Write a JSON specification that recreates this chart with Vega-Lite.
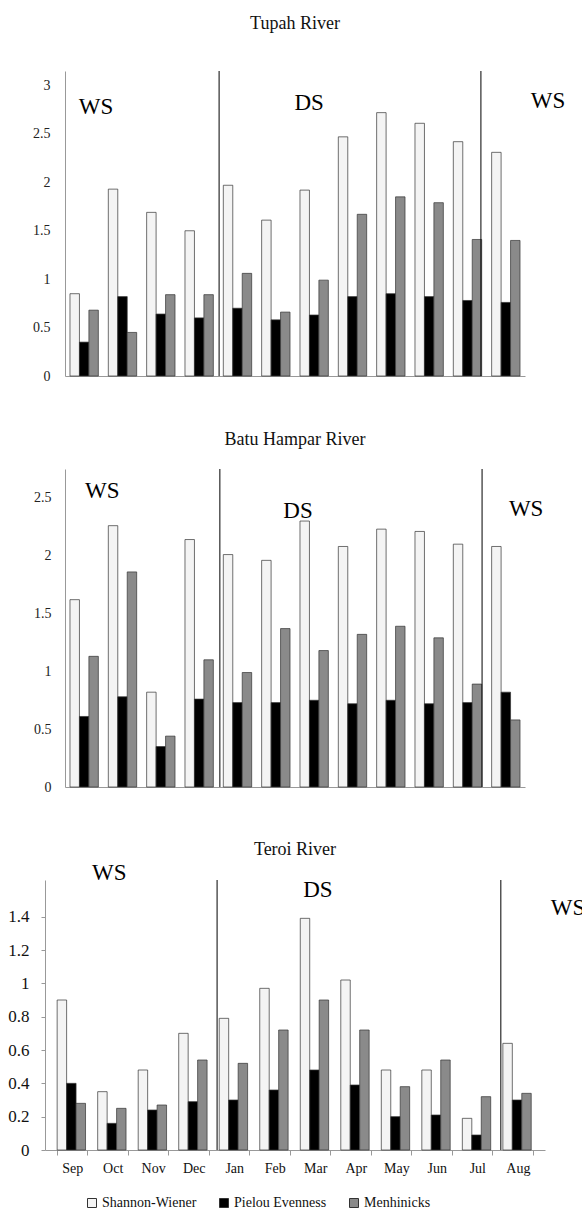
{
  "$schema": "https://vega.github.io/schema/vega-lite/v6.json",
  "padding": {"left": 7, "top": 14, "right": 5, "bottom": 5},
  "config": {
    "font": "Liberation Serif",
    "view": {"stroke": null},
    "title": {"font": "Liberation Serif", "fontSize": 18, "fontWeight": "normal", "color": "#111", "anchor": "middle"},
    "axis": {"grid": false, "labelFont": "Liberation Serif", "domainColor": "#999", "tickColor": "#999", "labelColor": "#222", "labelOverlap": false},
    "legend": {"labelFont": "Liberation Serif", "labelFontSize": 14, "labelColor": "#111"}
  },
  "datasets": {
    "bars": [
      {"r": "Tupah River", "m": "Sep", "i": "Shannon-Wiener", "v": 0.85},
      {"r": "Tupah River", "m": "Sep", "i": "Pielou Evenness", "v": 0.35},
      {"r": "Tupah River", "m": "Sep", "i": "Menhinicks", "v": 0.68},
      {"r": "Tupah River", "m": "Oct", "i": "Shannon-Wiener", "v": 1.93},
      {"r": "Tupah River", "m": "Oct", "i": "Pielou Evenness", "v": 0.82},
      {"r": "Tupah River", "m": "Oct", "i": "Menhinicks", "v": 0.45},
      {"r": "Tupah River", "m": "Nov", "i": "Shannon-Wiener", "v": 1.69},
      {"r": "Tupah River", "m": "Nov", "i": "Pielou Evenness", "v": 0.64},
      {"r": "Tupah River", "m": "Nov", "i": "Menhinicks", "v": 0.84},
      {"r": "Tupah River", "m": "Dec", "i": "Shannon-Wiener", "v": 1.5},
      {"r": "Tupah River", "m": "Dec", "i": "Pielou Evenness", "v": 0.6},
      {"r": "Tupah River", "m": "Dec", "i": "Menhinicks", "v": 0.84},
      {"r": "Tupah River", "m": "Jan", "i": "Shannon-Wiener", "v": 1.97},
      {"r": "Tupah River", "m": "Jan", "i": "Pielou Evenness", "v": 0.7},
      {"r": "Tupah River", "m": "Jan", "i": "Menhinicks", "v": 1.06},
      {"r": "Tupah River", "m": "Feb", "i": "Shannon-Wiener", "v": 1.61},
      {"r": "Tupah River", "m": "Feb", "i": "Pielou Evenness", "v": 0.58},
      {"r": "Tupah River", "m": "Feb", "i": "Menhinicks", "v": 0.66},
      {"r": "Tupah River", "m": "Mar", "i": "Shannon-Wiener", "v": 1.92},
      {"r": "Tupah River", "m": "Mar", "i": "Pielou Evenness", "v": 0.63},
      {"r": "Tupah River", "m": "Mar", "i": "Menhinicks", "v": 0.99},
      {"r": "Tupah River", "m": "Apr", "i": "Shannon-Wiener", "v": 2.47},
      {"r": "Tupah River", "m": "Apr", "i": "Pielou Evenness", "v": 0.82},
      {"r": "Tupah River", "m": "Apr", "i": "Menhinicks", "v": 1.67},
      {"r": "Tupah River", "m": "May", "i": "Shannon-Wiener", "v": 2.72},
      {"r": "Tupah River", "m": "May", "i": "Pielou Evenness", "v": 0.85},
      {"r": "Tupah River", "m": "May", "i": "Menhinicks", "v": 1.85},
      {"r": "Tupah River", "m": "Jun", "i": "Shannon-Wiener", "v": 2.61},
      {"r": "Tupah River", "m": "Jun", "i": "Pielou Evenness", "v": 0.82},
      {"r": "Tupah River", "m": "Jun", "i": "Menhinicks", "v": 1.79},
      {"r": "Tupah River", "m": "Jul", "i": "Shannon-Wiener", "v": 2.42},
      {"r": "Tupah River", "m": "Jul", "i": "Pielou Evenness", "v": 0.78},
      {"r": "Tupah River", "m": "Jul", "i": "Menhinicks", "v": 1.41},
      {"r": "Tupah River", "m": "Aug", "i": "Shannon-Wiener", "v": 2.31},
      {"r": "Tupah River", "m": "Aug", "i": "Pielou Evenness", "v": 0.76},
      {"r": "Tupah River", "m": "Aug", "i": "Menhinicks", "v": 1.4},
      {"r": "Batu Hampar River", "m": "Sep", "i": "Shannon-Wiener", "v": 1.62},
      {"r": "Batu Hampar River", "m": "Sep", "i": "Pielou Evenness", "v": 0.61},
      {"r": "Batu Hampar River", "m": "Sep", "i": "Menhinicks", "v": 1.13},
      {"r": "Batu Hampar River", "m": "Oct", "i": "Shannon-Wiener", "v": 2.26},
      {"r": "Batu Hampar River", "m": "Oct", "i": "Pielou Evenness", "v": 0.78},
      {"r": "Batu Hampar River", "m": "Oct", "i": "Menhinicks", "v": 1.86},
      {"r": "Batu Hampar River", "m": "Nov", "i": "Shannon-Wiener", "v": 0.82},
      {"r": "Batu Hampar River", "m": "Nov", "i": "Pielou Evenness", "v": 0.35},
      {"r": "Batu Hampar River", "m": "Nov", "i": "Menhinicks", "v": 0.44},
      {"r": "Batu Hampar River", "m": "Dec", "i": "Shannon-Wiener", "v": 2.14},
      {"r": "Batu Hampar River", "m": "Dec", "i": "Pielou Evenness", "v": 0.76},
      {"r": "Batu Hampar River", "m": "Dec", "i": "Menhinicks", "v": 1.1},
      {"r": "Batu Hampar River", "m": "Jan", "i": "Shannon-Wiener", "v": 2.01},
      {"r": "Batu Hampar River", "m": "Jan", "i": "Pielou Evenness", "v": 0.73},
      {"r": "Batu Hampar River", "m": "Jan", "i": "Menhinicks", "v": 0.99},
      {"r": "Batu Hampar River", "m": "Feb", "i": "Shannon-Wiener", "v": 1.96},
      {"r": "Batu Hampar River", "m": "Feb", "i": "Pielou Evenness", "v": 0.73},
      {"r": "Batu Hampar River", "m": "Feb", "i": "Menhinicks", "v": 1.37},
      {"r": "Batu Hampar River", "m": "Mar", "i": "Shannon-Wiener", "v": 2.3},
      {"r": "Batu Hampar River", "m": "Mar", "i": "Pielou Evenness", "v": 0.75},
      {"r": "Batu Hampar River", "m": "Mar", "i": "Menhinicks", "v": 1.18},
      {"r": "Batu Hampar River", "m": "Apr", "i": "Shannon-Wiener", "v": 2.08},
      {"r": "Batu Hampar River", "m": "Apr", "i": "Pielou Evenness", "v": 0.72},
      {"r": "Batu Hampar River", "m": "Apr", "i": "Menhinicks", "v": 1.32},
      {"r": "Batu Hampar River", "m": "May", "i": "Shannon-Wiener", "v": 2.23},
      {"r": "Batu Hampar River", "m": "May", "i": "Pielou Evenness", "v": 0.75},
      {"r": "Batu Hampar River", "m": "May", "i": "Menhinicks", "v": 1.39},
      {"r": "Batu Hampar River", "m": "Jun", "i": "Shannon-Wiener", "v": 2.21},
      {"r": "Batu Hampar River", "m": "Jun", "i": "Pielou Evenness", "v": 0.72},
      {"r": "Batu Hampar River", "m": "Jun", "i": "Menhinicks", "v": 1.29},
      {"r": "Batu Hampar River", "m": "Jul", "i": "Shannon-Wiener", "v": 2.1},
      {"r": "Batu Hampar River", "m": "Jul", "i": "Pielou Evenness", "v": 0.73},
      {"r": "Batu Hampar River", "m": "Jul", "i": "Menhinicks", "v": 0.89},
      {"r": "Batu Hampar River", "m": "Aug", "i": "Shannon-Wiener", "v": 2.08},
      {"r": "Batu Hampar River", "m": "Aug", "i": "Pielou Evenness", "v": 0.82},
      {"r": "Batu Hampar River", "m": "Aug", "i": "Menhinicks", "v": 0.58},
      {"r": "Teroi River", "m": "Sep", "i": "Shannon-Wiener", "v": 0.9},
      {"r": "Teroi River", "m": "Sep", "i": "Pielou Evenness", "v": 0.4},
      {"r": "Teroi River", "m": "Sep", "i": "Menhinicks", "v": 0.28},
      {"r": "Teroi River", "m": "Oct", "i": "Shannon-Wiener", "v": 0.35},
      {"r": "Teroi River", "m": "Oct", "i": "Pielou Evenness", "v": 0.16},
      {"r": "Teroi River", "m": "Oct", "i": "Menhinicks", "v": 0.25},
      {"r": "Teroi River", "m": "Nov", "i": "Shannon-Wiener", "v": 0.48},
      {"r": "Teroi River", "m": "Nov", "i": "Pielou Evenness", "v": 0.24},
      {"r": "Teroi River", "m": "Nov", "i": "Menhinicks", "v": 0.27},
      {"r": "Teroi River", "m": "Dec", "i": "Shannon-Wiener", "v": 0.7},
      {"r": "Teroi River", "m": "Dec", "i": "Pielou Evenness", "v": 0.29},
      {"r": "Teroi River", "m": "Dec", "i": "Menhinicks", "v": 0.54},
      {"r": "Teroi River", "m": "Jan", "i": "Shannon-Wiener", "v": 0.79},
      {"r": "Teroi River", "m": "Jan", "i": "Pielou Evenness", "v": 0.3},
      {"r": "Teroi River", "m": "Jan", "i": "Menhinicks", "v": 0.52},
      {"r": "Teroi River", "m": "Feb", "i": "Shannon-Wiener", "v": 0.97},
      {"r": "Teroi River", "m": "Feb", "i": "Pielou Evenness", "v": 0.36},
      {"r": "Teroi River", "m": "Feb", "i": "Menhinicks", "v": 0.72},
      {"r": "Teroi River", "m": "Mar", "i": "Shannon-Wiener", "v": 1.39},
      {"r": "Teroi River", "m": "Mar", "i": "Pielou Evenness", "v": 0.48},
      {"r": "Teroi River", "m": "Mar", "i": "Menhinicks", "v": 0.9},
      {"r": "Teroi River", "m": "Apr", "i": "Shannon-Wiener", "v": 1.02},
      {"r": "Teroi River", "m": "Apr", "i": "Pielou Evenness", "v": 0.39},
      {"r": "Teroi River", "m": "Apr", "i": "Menhinicks", "v": 0.72},
      {"r": "Teroi River", "m": "May", "i": "Shannon-Wiener", "v": 0.48},
      {"r": "Teroi River", "m": "May", "i": "Pielou Evenness", "v": 0.2},
      {"r": "Teroi River", "m": "May", "i": "Menhinicks", "v": 0.38},
      {"r": "Teroi River", "m": "Jun", "i": "Shannon-Wiener", "v": 0.48},
      {"r": "Teroi River", "m": "Jun", "i": "Pielou Evenness", "v": 0.21},
      {"r": "Teroi River", "m": "Jun", "i": "Menhinicks", "v": 0.54},
      {"r": "Teroi River", "m": "Jul", "i": "Shannon-Wiener", "v": 0.19},
      {"r": "Teroi River", "m": "Jul", "i": "Pielou Evenness", "v": 0.09},
      {"r": "Teroi River", "m": "Jul", "i": "Menhinicks", "v": 0.32},
      {"r": "Teroi River", "m": "Aug", "i": "Shannon-Wiener", "v": 0.64},
      {"r": "Teroi River", "m": "Aug", "i": "Pielou Evenness", "v": 0.3},
      {"r": "Teroi River", "m": "Aug", "i": "Menhinicks", "v": 0.34}
    ],
    "rules": [
      {"r": "Tupah River", "p": 4.02},
      {"r": "Tupah River", "p": 10.85},
      {"r": "Batu Hampar River", "p": 4.04},
      {"r": "Batu Hampar River", "p": 10.88},
      {"r": "Teroi River", "p": 4.13},
      {"r": "Teroi River", "p": 10.94}
    ],
    "seasons": [
      {"r": "Tupah River", "t": "WS", "p": 0.81, "h": 2.78},
      {"r": "Tupah River", "t": "DS", "p": 6.37, "h": 2.82},
      {"r": "Tupah River", "t": "WS", "p": 12.6, "h": 2.84},
      {"r": "Batu Hampar River", "t": "WS", "p": 0.97, "h": 2.56},
      {"r": "Batu Hampar River", "t": "DS", "p": 6.08, "h": 2.39},
      {"r": "Batu Hampar River", "t": "WS", "p": 12.03, "h": 2.4},
      {"r": "Teroi River", "t": "WS", "p": 1.54, "h": 1.66},
      {"r": "Teroi River", "t": "DS", "p": 6.55, "h": 1.56},
      {"r": "Teroi River", "t": "WS", "p": 12.55, "h": 1.45}
    ]
  },
  "spacing": 93,
  "center": true,
  "bounds": "flush",
  "vconcat": [
    {
      "title": {"text": "Tupah River", "offset": 38},
      "width": 460,
      "height": 305,
      "layer": [
        {
          "data": {"name": "bars"},
          "transform": [{"filter": "datum.r === 'Tupah River'"}],
          "mark": {"type": "bar", "stroke": "#333", "strokeWidth": 0.7},
          "encoding": {
            "x": {"field": "m", "type": "nominal", "sort": ["Sep","Oct","Nov","Dec","Jan","Feb","Mar","Apr","May","Jun","Jul","Aug"], "scale": {"paddingInner": 0.26, "paddingOuter": 0.13}, "axis": {"labels": false, "ticks": false, "title": null}},
            "xOffset": {"field": "i", "type": "nominal", "sort": ["Shannon-Wiener","Pielou Evenness","Menhinicks"]},
            "y": {"field": "v", "type": "quantitative", "scale": {"domain": [0, 3.15], "nice": false}, "axis": {"values": [0,0.5,1,1.5,2,2.5,3], "format": ".2~f", "ticks": false, "labelPadding": 15, "labelFontSize": 14, "labelOverlap": false, "title": null}},
            "color": {"field": "i", "type": "nominal", "sort": ["Shannon-Wiener","Pielou Evenness","Menhinicks"], "scale": {"domain": ["Shannon-Wiener","Pielou Evenness","Menhinicks"], "range": ["#f4f4f4","#000000","#8a8a8a"]}, "legend": {"orient": "none", "legendX": 40, "legendY": 1125, "direction": "horizontal", "title": null, "symbolType": "square", "symbolSize": 81, "symbolStrokeColor": "#111", "symbolStrokeWidth": 1, "columnPadding": 20, "labelOffset": 3, "labelLimit": 300}}
          }
        },
        {
          "data": {"name": "rules"},
          "transform": [{"filter": "datum.r === 'Tupah River'"}],
          "mark": {"type": "rule", "color": "#000", "strokeWidth": 1},
          "encoding": {"x": {"field": "p", "type": "quantitative", "scale": {"domain": [0, 12], "nice": false, "zero": false}, "axis": null}}
        },
        {
          "data": {"name": "seasons"},
          "transform": [{"filter": "datum.r === 'Tupah River'"}],
          "mark": {"type": "text", "fontSize": 23, "font": "Liberation Serif", "color": "#000"},
          "encoding": {
            "x": {"field": "p", "type": "quantitative", "scale": {"domain": [0, 12], "nice": false, "zero": false}, "axis": null},
            "y": {"field": "h", "type": "quantitative", "axis": {"values": [0,0.5,1,1.5,2,2.5,3], "format": ".2~f", "ticks": false, "labelPadding": 15, "labelFontSize": 14, "labelOverlap": false, "title": null}},
            "text": {"field": "t"}
          }
        }
      ],
      "resolve": {"scale": {"x": "independent"}}
    },
    {
      "title": {"text": "Batu Hampar River", "offset": 20},
      "width": 460,
      "height": 318,
      "layer": [
        {
          "data": {"name": "bars"},
          "transform": [{"filter": "datum.r === 'Batu Hampar River'"}],
          "mark": {"type": "bar", "stroke": "#333", "strokeWidth": 0.7},
          "encoding": {
            "x": {"field": "m", "type": "nominal", "sort": ["Sep","Oct","Nov","Dec","Jan","Feb","Mar","Apr","May","Jun","Jul","Aug"], "scale": {"paddingInner": 0.26, "paddingOuter": 0.13}, "axis": {"labels": false, "ticks": false, "title": null}},
            "xOffset": {"field": "i", "type": "nominal", "sort": ["Shannon-Wiener","Pielou Evenness","Menhinicks"]},
            "y": {"field": "v", "type": "quantitative", "scale": {"domain": [0, 2.75], "nice": false}, "axis": {"values": [0,0.5,1,1.5,2,2.5], "format": ".2~f", "ticks": false, "labelPadding": 14, "labelFontSize": 14, "labelOverlap": false, "title": null}},
            "color": {"field": "i", "type": "nominal", "sort": ["Shannon-Wiener","Pielou Evenness","Menhinicks"], "scale": {"domain": ["Shannon-Wiener","Pielou Evenness","Menhinicks"], "range": ["#f4f4f4","#000000","#8a8a8a"]}}
          }
        },
        {
          "data": {"name": "rules"},
          "transform": [{"filter": "datum.r === 'Batu Hampar River'"}],
          "mark": {"type": "rule", "color": "#000", "strokeWidth": 1},
          "encoding": {"x": {"field": "p", "type": "quantitative", "scale": {"domain": [0, 12], "nice": false, "zero": false}, "axis": null}}
        },
        {
          "data": {"name": "seasons"},
          "transform": [{"filter": "datum.r === 'Batu Hampar River'"}],
          "mark": {"type": "text", "fontSize": 23, "font": "Liberation Serif", "color": "#000"},
          "encoding": {
            "x": {"field": "p", "type": "quantitative", "scale": {"domain": [0, 12], "nice": false, "zero": false}, "axis": null},
            "y": {"field": "h", "type": "quantitative", "axis": {"values": [0,0.5,1,1.5,2,2.5], "format": ".2~f", "ticks": false, "labelPadding": 14, "labelFontSize": 14, "labelOverlap": false, "title": null}},
            "text": {"field": "t"}
          }
        }
      ],
      "resolve": {"scale": {"x": "independent"}}
    },
    {
      "title": {"text": "Teroi River", "offset": 3},
      "width": 500,
      "height": 270,
      "layer": [
        {
          "data": {"name": "bars"},
          "transform": [{"filter": "datum.r === 'Teroi River'"}],
          "mark": {"type": "bar", "stroke": "#333", "strokeWidth": 0.7},
          "encoding": {
            "x": {"field": "m", "type": "nominal", "sort": ["Sep","Oct","Nov","Dec","Jan","Feb","Mar","Apr","May","Jun","Jul","Aug"], "scale": {"paddingInner": 0.26, "paddingOuter": 0.3}, "axis": {"labelAngle": 0, "labelFontSize": 14, "labelColor": "#111", "ticks": true, "tickBand": "extent", "tickSize": 5, "labelPadding": 6, "title": null}},
            "xOffset": {"field": "i", "type": "nominal", "sort": ["Shannon-Wiener","Pielou Evenness","Menhinicks"]},
            "y": {"field": "v", "type": "quantitative", "scale": {"domain": [0, 1.62], "nice": false}, "axis": {"values": [0,0.2,0.4,0.6,0.8,1,1.2,1.4], "format": ".2~f", "tickSize": 4, "labelPadding": 12, "labelFontSize": 17, "labelColor": "#111", "labelOverlap": false, "title": null}},
            "color": {"field": "i", "type": "nominal", "sort": ["Shannon-Wiener","Pielou Evenness","Menhinicks"], "scale": {"domain": ["Shannon-Wiener","Pielou Evenness","Menhinicks"], "range": ["#f4f4f4","#000000","#8a8a8a"]}}
          }
        },
        {
          "data": {"name": "rules"},
          "transform": [{"filter": "datum.r === 'Teroi River'"}],
          "mark": {"type": "rule", "color": "#000", "strokeWidth": 1},
          "encoding": {"x": {"field": "p", "type": "quantitative", "scale": {"domain": [0, 12], "nice": false, "zero": false}, "axis": null}}
        },
        {
          "data": {"name": "seasons"},
          "transform": [{"filter": "datum.r === 'Teroi River'"}],
          "mark": {"type": "text", "fontSize": 23, "font": "Liberation Serif", "color": "#000"},
          "encoding": {
            "x": {"field": "p", "type": "quantitative", "scale": {"domain": [0, 12], "nice": false, "zero": false}, "axis": null},
            "y": {"field": "h", "type": "quantitative", "axis": {"values": [0,0.2,0.4,0.6,0.8,1,1.2,1.4], "format": ".2~f", "tickSize": 4, "labelPadding": 12, "labelFontSize": 17, "labelColor": "#111", "labelOverlap": false, "title": null}},
            "text": {"field": "t"}
          }
        }
      ],
      "resolve": {"scale": {"x": "independent"}}
    }
  ]
}
